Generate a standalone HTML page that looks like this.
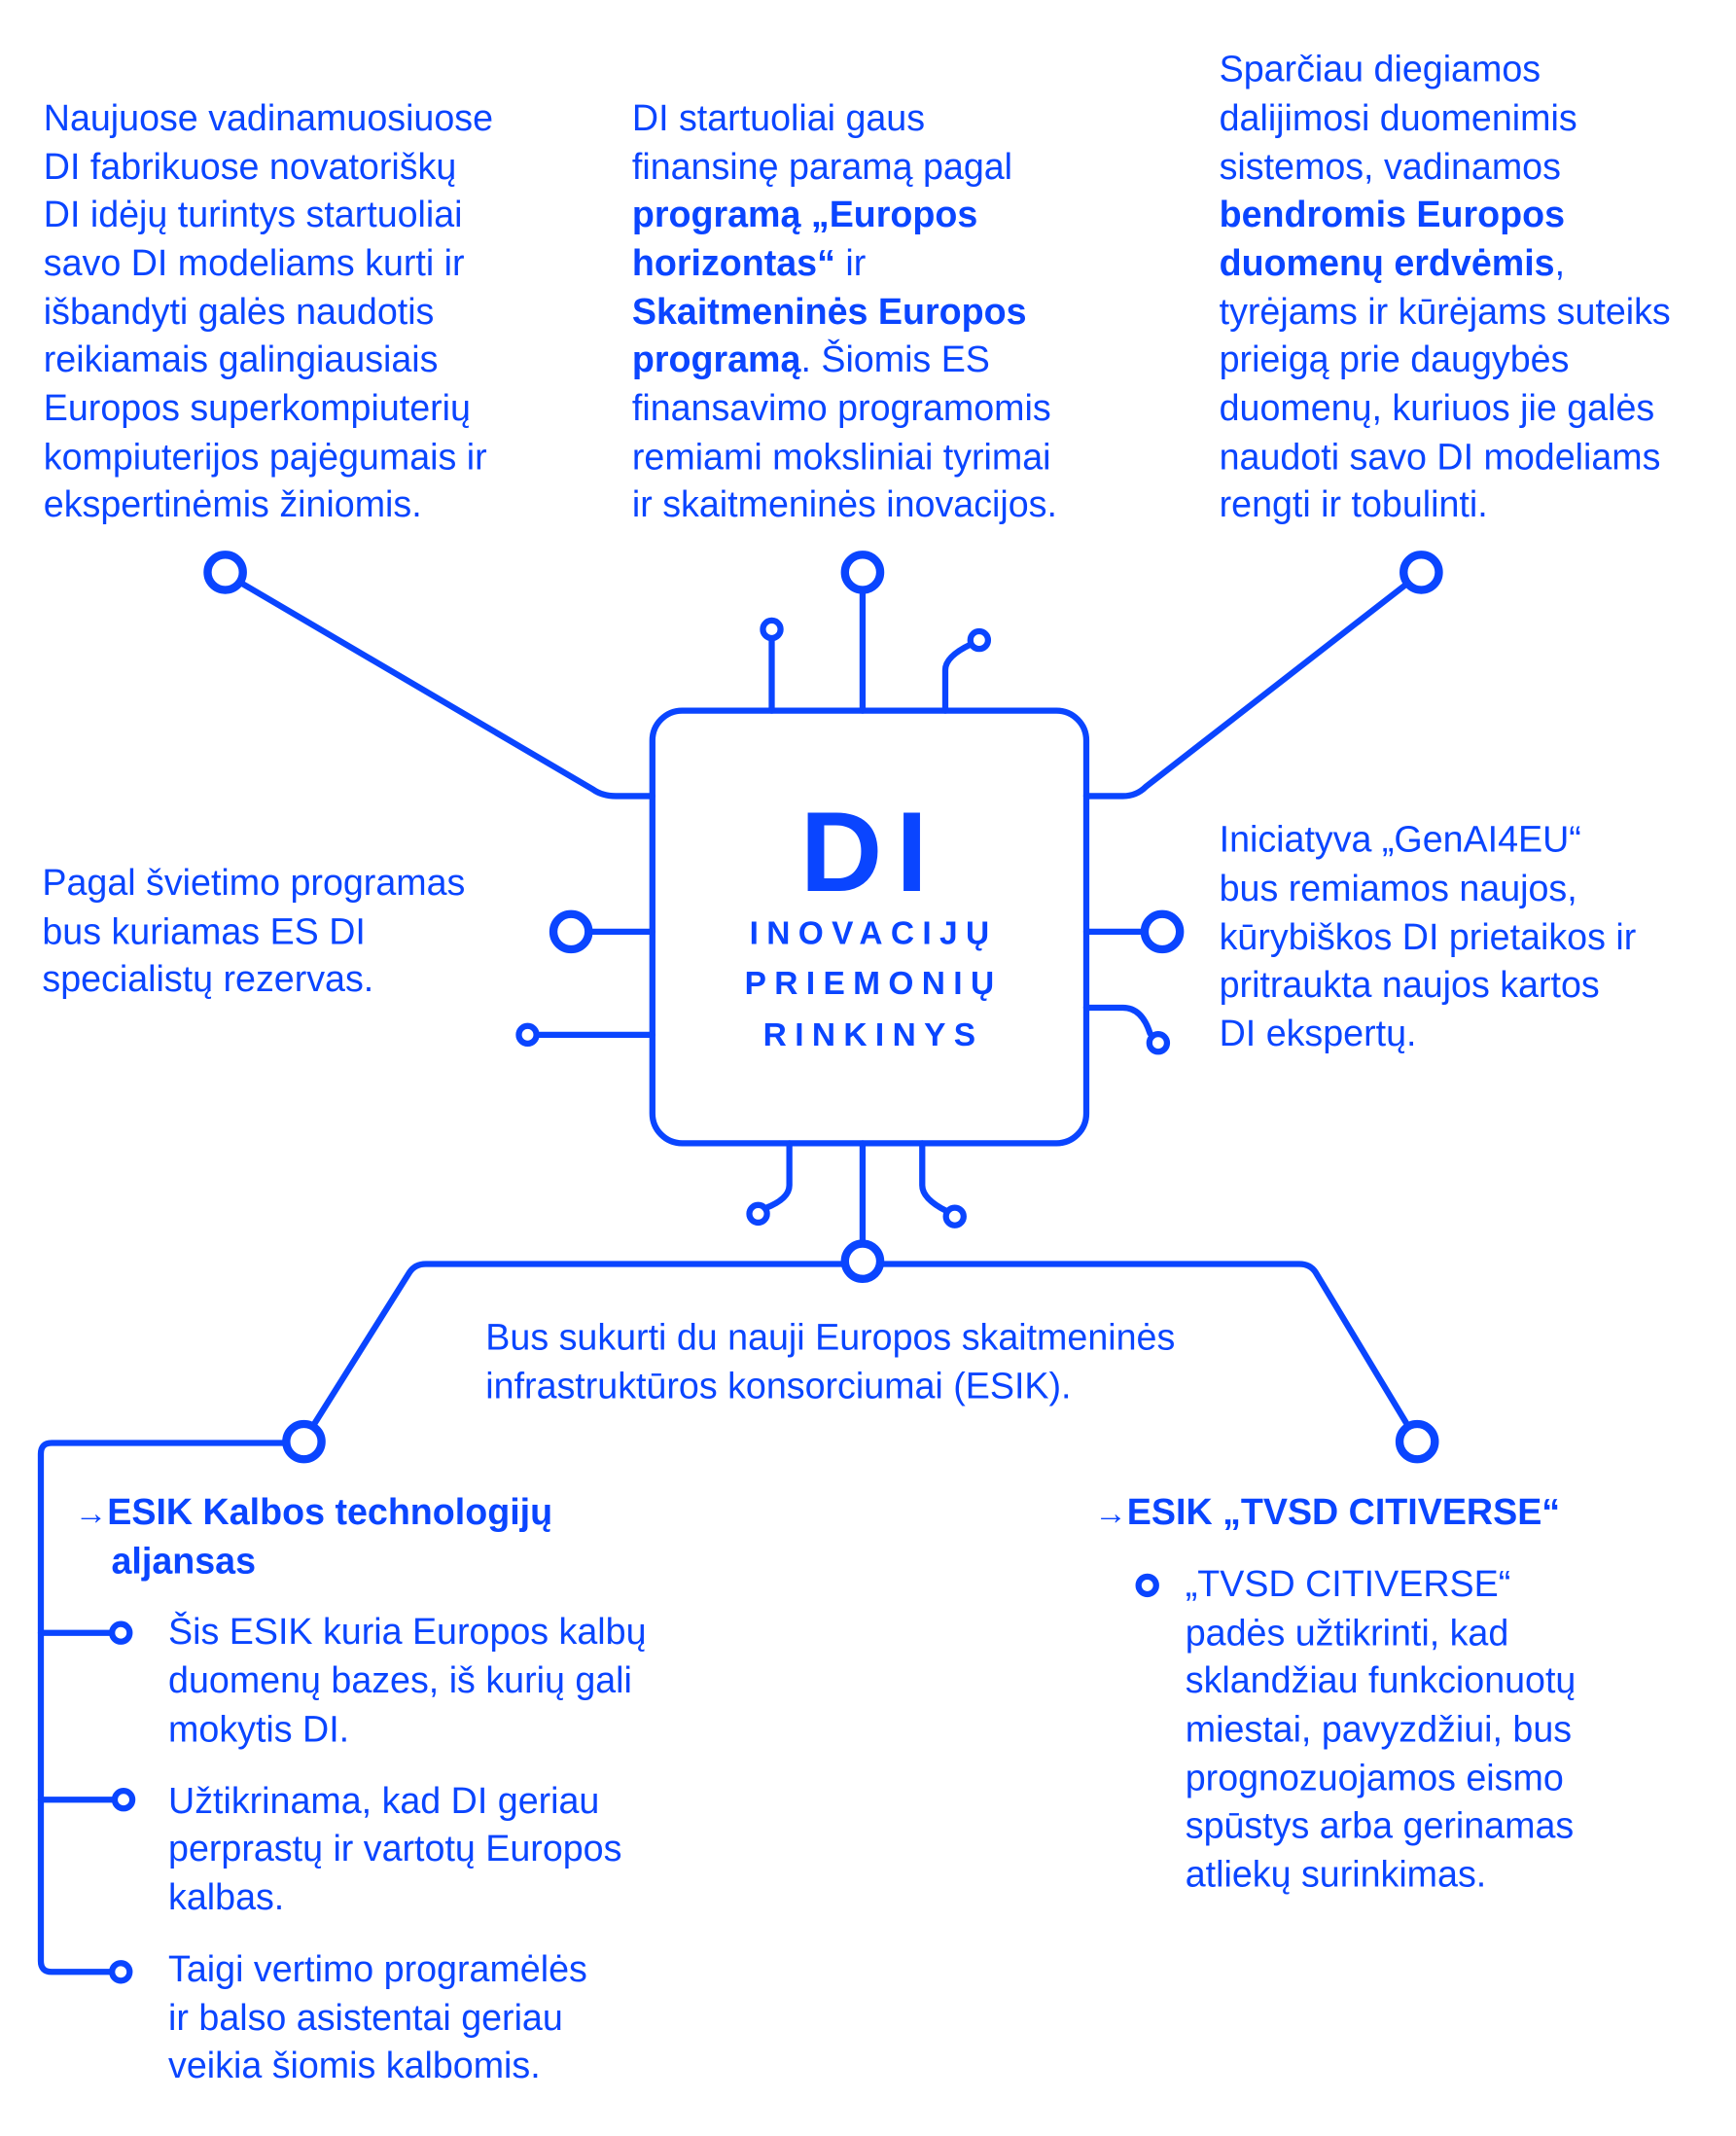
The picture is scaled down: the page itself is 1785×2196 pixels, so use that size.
<!DOCTYPE html>
<html><head><meta charset="utf-8"><style>
html,body{margin:0;padding:0;background:#fff}
svg{display:block}
text{font-family:"Liberation Sans",sans-serif;fill:#0a45ff;font-size:27px}
.b{font-weight:bold}
</style></head><body>
<svg width="1785" height="2196" viewBox="0 0 1280 1575" xmlns="http://www.w3.org/2000/svg">
<g fill="none" stroke="#0a45ff" stroke-width="4.5" stroke-linecap="round" stroke-linejoin="round">
<rect x="481" y="524" width="320" height="319" rx="22"/>
<path d="M178 430 L437 582 Q444 587 454 587 L481 587"/>
<circle cx="166" cy="422" r="13" stroke-width="6"/>
<path d="M1038 430 L845 580 Q838 587 828 587 L801 587"/>
<circle cx="1048" cy="422" r="13" stroke-width="6"/>
<path d="M636 524 L636 436"/><circle cx="636" cy="422" r="13" stroke-width="6"/>
<path d="M569 524 L569 471"/><circle cx="569" cy="464" r="6.5"/>
<path d="M697 524 L697 494 Q697 484 716 475"/><circle cx="722" cy="472" r="6.5"/>
<path d="M481 687 L434 687"/><circle cx="421" cy="687" r="13" stroke-width="6"/>
<path d="M481 763 L396 763"/><circle cx="389" cy="763" r="6.5"/>
<path d="M801 687 L844 687"/><circle cx="857" cy="687" r="13" stroke-width="6"/>
<path d="M801 743 L828 743 Q842 743 848 762"/><circle cx="854" cy="769" r="6.5"/>
<path d="M582 843 L582 874 Q582 884 564 891"/><circle cx="559" cy="895" r="6.5"/>
<path d="M636 843 L636 917"/><circle cx="636" cy="930" r="13" stroke-width="6"/>
<path d="M680 843 L680 874 Q680 884 698 893"/><circle cx="704" cy="897" r="6.5"/>
<path d="M623 932 L314 932 Q306 932 302 938 L231 1051"/>
<path d="M649 932 L958 932 Q966 932 970 938 L1038 1051"/>
<circle cx="224" cy="1063" r="13" stroke-width="6"/>
<circle cx="1045" cy="1063" r="13" stroke-width="6"/>
<path d="M211 1064 L38 1064 Q30 1064 30 1072 L30 1446 Q30 1454 38 1454 L82 1454"/>
<path d="M30 1204 L82 1204"/><path d="M30 1327 L84 1327"/>
<circle cx="89" cy="1204" r="6.5"/><circle cx="91" cy="1327" r="6.5"/><circle cx="89" cy="1454" r="6.5"/>
<circle cx="846" cy="1169" r="6.5"/>
</g>
<text x="32" y="96">Naujuose vadinamuosiuose</text>
<text x="32" y="132">DI fabrikuose novatoriškų</text>
<text x="32" y="167">DI idėjų turintys startuoliai</text>
<text x="32" y="203">savo DI modeliams kurti ir</text>
<text x="32" y="239">išbandyti galės naudotis</text>
<text x="32" y="274">reikiamais galingiausiais</text>
<text x="32" y="310">Europos superkompiuterių</text>
<text x="32" y="346">kompiuterijos pajėgumais ir</text>
<text x="32" y="381">ekspertinėmis žiniomis.</text>
<text x="466" y="96">DI startuoliai gaus</text>
<text x="466" y="132">finansinę paramą pagal</text>
<text x="466" y="167" class="b">programą „Europos</text>
<text x="466" y="203"><tspan class="b">horizontas“</tspan> ir</text>
<text x="466" y="239" class="b">Skaitmeninės Europos</text>
<text x="466" y="274"><tspan class="b">programą</tspan>. Šiomis ES</text>
<text x="466" y="310">finansavimo programomis</text>
<text x="466" y="346">remiami moksliniai tyrimai</text>
<text x="466" y="381">ir skaitmeninės inovacijos.</text>
<text x="899" y="60">Sparčiau diegiamos</text>
<text x="899" y="96">dalijimosi duomenimis</text>
<text x="899" y="132">sistemos, vadinamos</text>
<text x="899" y="167" class="b">bendromis Europos</text>
<text x="899" y="203"><tspan class="b">duomenų erdvėmis</tspan>,</text>
<text x="899" y="239">tyrėjams ir kūrėjams suteiks</text>
<text x="899" y="274">prieigą prie daugybės</text>
<text x="899" y="310">duomenų, kuriuos jie galės</text>
<text x="899" y="346">naudoti savo DI modeliams</text>
<text x="899" y="381">rengti ir tobulinti.</text>
<text x="642" y="657" text-anchor="middle" class="b" style="font-size:84px;letter-spacing:10px">DI</text>
<text x="644" y="696" text-anchor="middle" class="b" style="font-size:24px;letter-spacing:6px">INOVACIJŲ</text>
<text x="644" y="733" text-anchor="middle" class="b" style="font-size:24px;letter-spacing:6px">PRIEMONIŲ</text>
<text x="644" y="771" text-anchor="middle" class="b" style="font-size:24px;letter-spacing:6px">RINKINYS</text>
<text x="31" y="660">Pagal švietimo programas</text>
<text x="31" y="696">bus kuriamas ES DI</text>
<text x="31" y="731">specialistų rezervas.</text>
<text x="899" y="628">Iniciatyva „GenAI4EU“</text>
<text x="899" y="664">bus remiamos naujos,</text>
<text x="899" y="700">kūrybiškos DI prietaikos ir</text>
<text x="899" y="735">pritraukta naujos kartos</text>
<text x="899" y="771">DI ekspertų.</text>
<text x="358" y="995">Bus sukurti du nauji Europos skaitmeninės</text>
<text x="358" y="1031">infrastruktūros konsorciumai (ESIK).</text>
<text x="55" y="1124" class="b"><tspan style="font-size:24px">→</tspan>ESIK Kalbos technologijų</text>
<text x="82" y="1160" class="b">aljansas</text>
<text x="124" y="1212">Šis ESIK kuria Europos kalbų</text>
<text x="124" y="1248">duomenų bazes, iš kurių gali</text>
<text x="124" y="1284">mokytis DI.</text>
<text x="124" y="1337">Užtikrinama, kad DI geriau</text>
<text x="124" y="1372">perprastų ir vartotų Europos</text>
<text x="124" y="1408">kalbas.</text>
<text x="124" y="1461">Taigi vertimo programėlės</text>
<text x="124" y="1497">ir balso asistentai geriau</text>
<text x="124" y="1532">veikia šiomis kalbomis.</text>
<text x="807" y="1124" class="b"><tspan style="font-size:24px">→</tspan>ESIK „TVSD CITIVERSE“</text>
<text x="874" y="1177">„TVSD CITIVERSE“</text>
<text x="874" y="1213">padės užtikrinti, kad</text>
<text x="874" y="1248">sklandžiau funkcionuotų</text>
<text x="874" y="1284">miestai, pavyzdžiui, bus</text>
<text x="874" y="1320">prognozuojamos eismo</text>
<text x="874" y="1355">spūstys arba gerinamas</text>
<text x="874" y="1391">atliekų surinkimas.</text>
</svg>
</body></html>
